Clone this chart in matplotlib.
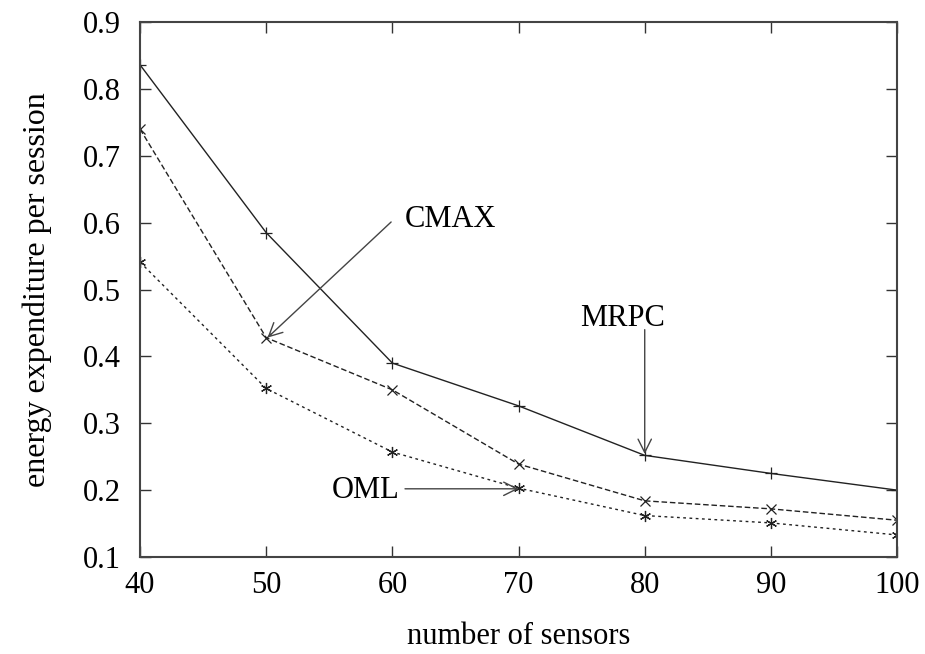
import matplotlib
matplotlib.use('Agg')
import matplotlib.pyplot as plt

# dados
sensores = [40, 50, 60, 70, 80, 90, 100]
mrpc = [0.836, 0.585, 0.390, 0.326, 0.252, 0.225, 0.200]
cmax = [0.740, 0.428, 0.350, 0.239, 0.184, 0.172, 0.155]
oml = [0.541, 0.352, 0.257, 0.203, 0.162, 0.151, 0.133]

plt.rcParams['font.family'] = ['Liberation Serif', 'DejaVu Serif']

fig = plt.figure(figsize=(9.25, 6.54), dpi=100)
ax = fig.add_axes([0.1514, 0.1483, 0.8184, 0.818])

cor = '#222222'
ax.plot(sensores, mrpc, color=cor, lw=1.0, ls='-', marker='+', ms=8, mew=0.9)
ax.plot(sensores, cmax, color=cor, lw=1.0, ls=(0, (4, 2)), marker='x', ms=7, mew=0.9)
ax.plot(sensores, oml, color=cor, lw=1.0, ls=(0, (2, 2.5)), marker=(6, 2, 0), ms=8, mew=0.9)

ax.set_xlim(40, 100)
ax.set_ylim(0.1, 0.9)
ax.set_xticks(sensores)
ax.set_yticks([0.1, 0.2, 0.3, 0.4, 0.5, 0.6, 0.7, 0.8, 0.9])
ax.tick_params(direction='in', length=8, width=1.0, top=True, right=True,
               labelsize=22, colors='#333333', labelcolor='black')
ax.tick_params(axis='x', pad=10)
ax.tick_params(axis='y', pad=14)
for s in ax.spines.values():
    s.set_color('#444444')
    s.set_linewidth(1.5)

ax.set_xlabel('number of sensors', fontsize=22, labelpad=16)
ax.set_ylabel('energy expenditure per session', fontsize=23, labelpad=22)

seta = dict(arrowstyle='->', color='#444444', lw=1.0, mutation_scale=24, shrinkA=0, shrinkB=0)
ax.text(61.0, 0.604, 'CMAX', fontsize=22, va='center', ha='left')
ax.annotate('', xy=(50.1, 0.428), xytext=(59.9, 0.601), arrowprops=seta)
ax.text(74.9, 0.457, 'MRPC', fontsize=22, va='center', ha='left')
ax.annotate('', xy=(80, 0.254), xytext=(80, 0.44), arrowprops=seta)
ax.text(60.6, 0.200, 'OML', fontsize=22, va='center', ha='right')
ax.annotate('', xy=(70.0, 0.202), xytext=(61.0, 0.202), arrowprops=seta)

fig.savefig('out.png', dpi=100)
